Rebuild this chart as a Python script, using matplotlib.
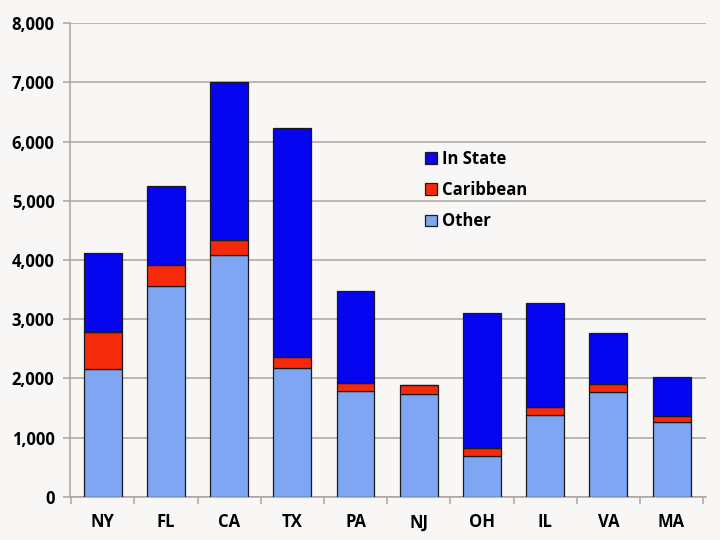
import matplotlib.pyplot as plt
import numpy as np

states = ["NY", "FL", "CA", "TX", "PA", "NJ", "OH", "IL", "VA", "MA"]
other = [2160, 3565, 4085, 2175, 1785, 1735, 690, 1385, 1770, 1265]
caribbean = [620, 350, 250, 185, 145, 160, 130, 135, 130, 100]
in_state = [1340, 1340, 2665, 3875, 1545, 0, 2290, 1760, 870, 665]

plt.rcParams["font.family"] = ["Open Sans", "DejaVu Sans"]
plt.rcParams["font.weight"] = "bold"

fig = plt.figure(figsize=(7.2, 5.4), dpi=100, facecolor="#f8f7f6")
ax = fig.add_axes([0.097, 0.08, 0.884, 0.877], facecolor="#f8f7f6")

x = np.arange(len(states))
other = np.array(other)
caribbean = np.array(caribbean)
in_state = np.array(in_state)

w = 0.6
ax.bar(x, other, w, color="#7fa6f2", edgecolor="#1a1a1a", linewidth=0.9, label="Other", zorder=3)
ax.bar(x, caribbean, w, bottom=other, color="#f52a0a", edgecolor="#1a1a1a", linewidth=0.9,
       label="Caribbean", zorder=3)
ax.bar(x, in_state, w, bottom=other + caribbean, color="#0505f0", edgecolor="#1a1a1a",
       linewidth=0.9, label="In State", zorder=3)

ax.set_xlim(-0.52, len(states) - 0.45)
ax.set_ylim(0, 8000)
ax.set_yticks(np.arange(0, 8001, 1000))
ax.set_yticklabels([f"{v:,}" for v in range(0, 8001, 1000)])
ax.yaxis.grid(True, color="#a8a4a0", linewidth=1.1, zorder=0)
ax.set_axisbelow(True)

ax.set_xticks(x)
ax.set_xticklabels(states)
ax.set_xticks(np.arange(-0.5, len(states), 1), minor=True)
ax.tick_params(axis="x", which="major", length=0, pad=12, labelsize=12)
ax.tick_params(axis="x", which="minor", length=5, color="#a8a4a0", width=1.1)
ax.tick_params(axis="y", length=5, color="#a8a4a0", width=1.1, labelsize=12, pad=6)

for s in ["top", "right"]:
    ax.spines[s].set_visible(False)
for s in ["left", "bottom"]:
    ax.spines[s].set_color("#a8a4a0")
    ax.spines[s].set_linewidth(1.1)

handles, labels = ax.get_legend_handles_labels()
leg = ax.legend(handles[::-1], labels[::-1], loc="upper left", bbox_to_anchor=(0.535, 0.765),
                frameon=False, fontsize=12, handlelength=0.7, handleheight=0.7,
                handletextpad=0.3, labelspacing=0.8)

fig.savefig("out.png", dpi=100, facecolor=fig.get_facecolor())
